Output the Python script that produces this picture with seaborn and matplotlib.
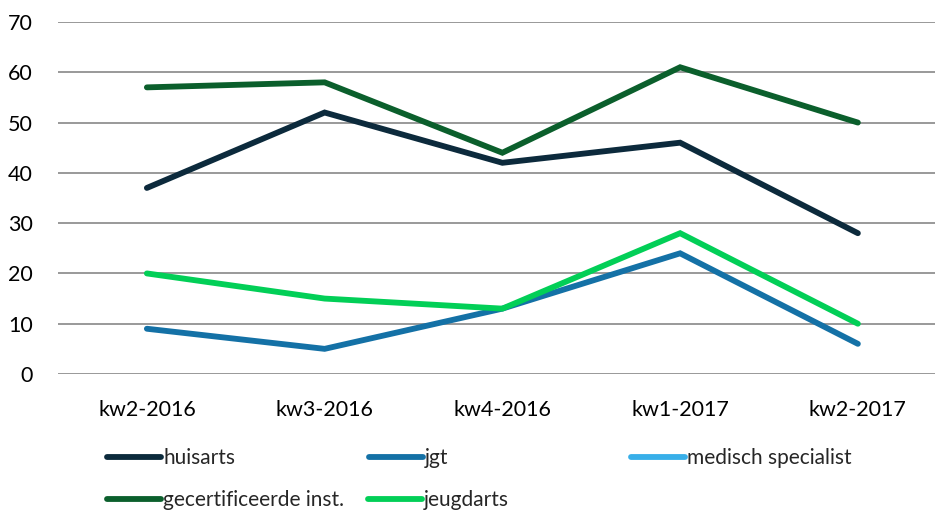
import numpy as np
import pandas as pd
import matplotlib.pyplot as plt
import seaborn as sns
from matplotlib.lines import Line2D

quarters = ["kw2-2016", "kw3-2016", "kw4-2016", "kw1-2017", "kw2-2017"]
huisarts = [37, 52, 42, 46, 28]
jgt = [9, 5, 13, 24, 6]
medisch_specialist = [np.nan, np.nan, np.nan, np.nan, np.nan]
gecertificeerde = [57, 58, 44, 61, 50]
jeugdarts = [20, 15, 13, 28, 10]

series = {
    "huisarts": huisarts,
    "jgt": jgt,
    "medisch specialist": medisch_specialist,
    "gecertificeerde inst.": gecertificeerde,
    "jeugdarts": jeugdarts,
}
colors = {
    "huisarts": "#0c2a3c",
    "jgt": "#1471a6",
    "medisch specialist": "#38afe9",
    "gecertificeerde inst.": "#0b5f2c",
    "jeugdarts": "#02cf57",
}

rows = []
for name, vals in series.items():
    for i, v in enumerate(vals):
        rows.append({"kwartaal": i, "serie": name, "waarde": v})
df = pd.DataFrame(rows).dropna()

sns.set_theme(style="white")
plt.rcParams['font.family'] = ['Lato', 'DejaVu Sans']

fig = plt.figure(figsize=(9.35, 5.12), dpi=100)
ax = fig.add_axes([58 / 935, 1 - 374 / 512, (946.75 - 58) / 935, 352 / 512])

sns.lineplot(data=df, x="kwartaal", y="waarde", hue="serie", palette=colors,
             linewidth=4.2, ax=ax, legend=False, solid_capstyle="round",
             solid_joinstyle="miter")

ax.set_xlim(-0.5, 4.5)
ax.set_ylim(0, 70)
ax.set_yticks(range(0, 71, 10))
ax.set_xticks(range(len(quarters)))
ax.set_xticklabels(quarters)
ax.set_xlabel("")
ax.set_ylabel("")
ax.grid(axis="y", color="#999999", linewidth=1.4)
ax.set_axisbelow(True)
for s in ax.spines.values():
    s.set_visible(False)
ax.tick_params(axis="both", length=0, labelsize=15.5, colors="black")
ax.tick_params(axis="x", pad=19)
ax.tick_params(axis="y", pad=18)

# legend laid out like the original (flowing entries)
positions = {
    "huisarts": (107, 458),
    "jgt": (369, 458),
    "medisch specialist": (631, 458),
    "gecertificeerde inst.": (107, 500),
    "jeugdarts": (368, 500),
}
for name, (px, py) in positions.items():
    h = Line2D([], [], color=colors[name], linewidth=4.2, solid_capstyle="round")
    fig.legend(handles=[h], labels=[name], loc="center left",
               bbox_to_anchor=(px / 935, 1 - py / 512), frameon=False,
               fontsize=15, handlelength=2.6, handletextpad=0.1,
               borderpad=0, borderaxespad=0)

fig.savefig("out.png", dpi=100)
